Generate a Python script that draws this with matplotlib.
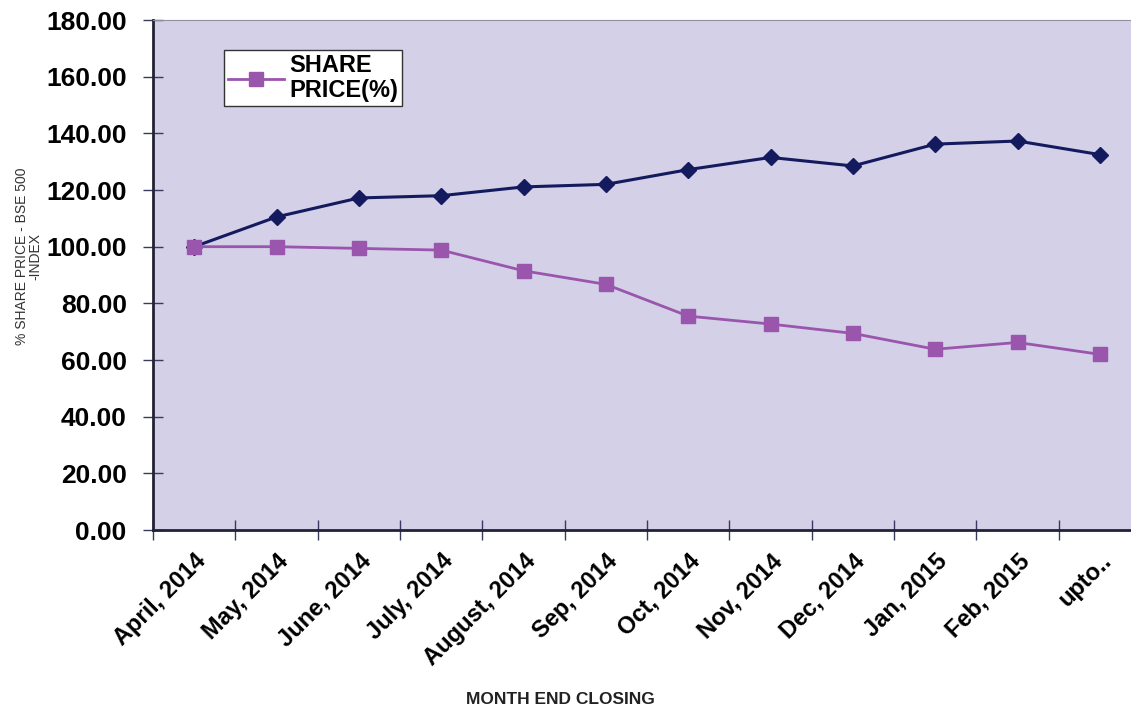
import matplotlib.pyplot as plt

months = ["April, 2014", "May, 2014", "June, 2014", "July, 2014", "August, 2014",
          "Sep, 2014", "Oct, 2014", "Nov, 2014", "Dec, 2014", "Jan, 2015",
          "Feb, 2015", "upto.."]
bse500 = [100.0, 110.5, 117.2, 118.0, 121.1, 122.0, 127.2, 131.5, 128.5, 136.2, 137.3, 132.5]
share_price = [100.0, 100.0, 99.4, 98.8, 91.5, 86.7, 75.5, 72.7, 69.4, 63.8, 66.2, 62.0]
yticks = [0, 20, 40, 60, 80, 100, 120, 140, 160, 180]

plt.rcParams["font.family"] = ["Liberation Sans", "DejaVu Sans"]

fig = plt.figure(figsize=(11.31, 7.08), dpi=100)
ax = fig.add_axes([0.1353, 0.2514, 0.8736, 0.7203])
ax.set_facecolor("#d3d0e8")

x = list(range(len(months)))
ax.plot(x, bse500, color="#141a5e", lw=2.2, marker="D", ms=8,
        markeredgecolor="#141a5e", label="_nolegend_")
ax.plot(x, share_price, color="#9a55ad", lw=2.0, marker="s", ms=10,
        markeredgecolor="#9a55ad", label="SHARE\nPRICE(%)")

ax.set_xlim(-0.5, 11.5)
ax.set_ylim(0, 180)
ax.set_yticks(yticks)
ax.set_yticklabels([f"{v:.2f}" for v in yticks], fontsize=19, fontweight="bold")

# category ticks sit between the points
ax.set_xticks([i - 0.5 for i in x], minor=False)
ax.set_xticklabels([])
ax.set_xticks(x, minor=True)
ax.set_xticklabels(months, minor=True, rotation=45, ha="right",
                   rotation_mode="anchor", fontsize=17, fontweight="bold")
ax.tick_params(axis="x", which="minor", length=0, pad=14)
ax.tick_params(axis="both", which="major", direction="inout", length=14,
               width=1, color="#3a3a60")
ax.tick_params(axis="y", pad=12)

for side in ["left", "bottom"]:
    ax.spines[side].set_color("#222236")
    ax.spines[side].set_linewidth(2)
ax.spines["top"].set_color("#9090a0")
ax.spines["right"].set_visible(False)

fig.text(560 / 1131, 1 / 708, "MONTH END CLOSING", fontsize=12.5,
         fontweight="bold", ha="center", va="bottom", color="#222222")
ax.set_ylabel("% SHARE PRICE - BSE 500\n-INDEX", fontsize=10, linespacing=0.9,
              color="#333333")
ax.yaxis.set_label_coords(-0.112, 0.537)

leg = ax.legend(loc="upper left", bbox_to_anchor=(0.072, 0.941), borderaxespad=0,
                fancybox=False, framealpha=1, edgecolor="#333333",
                prop={"size": 17, "weight": "bold"}, handlelength=2.4,
                handletextpad=0.2, borderpad=0.15)
leg.get_frame().set_linewidth(1)
for t in leg.get_texts():
    t.set_linespacing(1.15)

fig.savefig("out.png", dpi=100)
